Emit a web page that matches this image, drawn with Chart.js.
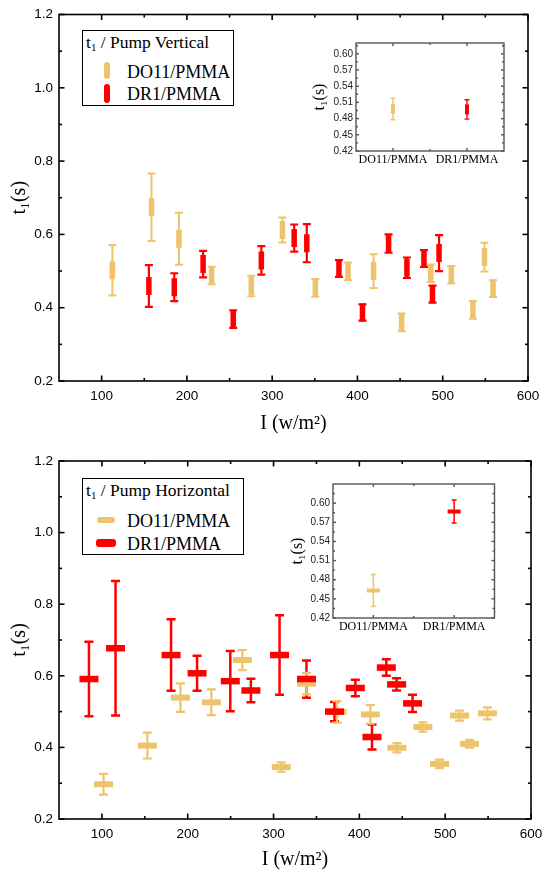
<!DOCTYPE html>
<html><head><meta charset="utf-8">
<script src="https://cdn.jsdelivr.net/npm/chart.js@4.4.1/dist/chart.umd.min.js"></script>
<style>
html,body{margin:0;padding:0;background:#fff;}
body{width:550px;height:881px;position:relative;overflow:hidden;}
canvas{position:absolute;}
.legend{position:absolute;border:1px solid #000;background:#fff;font-family:'Liberation Serif','Times New Roman',serif;color:#000;box-sizing:border-box;}
.legend div{position:absolute;line-height:1;white-space:nowrap;font-family:'Liberation Serif','Times New Roman',serif;}
.legend sub{font-size:0.62em;vertical-align:-0.25em;line-height:0;}
.mk{position:absolute;border-radius:3px;}
</style>
</head><body>
<canvas id="mainV" style="left:0;top:0;width:550px;height:440px"></canvas>
<canvas id="insetV" style="left:290px;top:30px;width:225px;height:145px"></canvas>
<canvas id="mainH" style="left:0;top:440px;width:550px;height:441px"></canvas>
<canvas id="insetH" style="left:270px;top:470px;width:235px;height:170px"></canvas>

<div class="legend" style="left:82px;top:30px;width:152px;height:76px">
  <div style="left:3px;top:3px;font-size:17.5px">t<sub>1</sub> / Pump Vertical</div>
  <span class="mk" style="left:21px;top:31px;width:5.5px;height:17px;background:#EDC46B"></span>
  <div style="left:44px;top:31.5px;font-size:18px">DO11/PMMA</div>
  <span class="mk" style="left:21px;top:53px;width:6px;height:19px;background:#FF0000"></span>
  <div style="left:44px;top:54px;font-size:18px">DR1/PMMA</div>
</div>
<div class="legend" style="left:82px;top:478px;width:162px;height:77px">
  <div style="left:3px;top:3px;font-size:17.5px">t<sub>1</sub> / Pump Horizontal</div>
  <span class="mk" style="left:14px;top:38px;width:18px;height:6px;background:#EDC46B"></span>
  <div style="left:44px;top:33px;font-size:18px">DO11/PMMA</div>
  <span class="mk" style="left:13px;top:60px;width:20px;height:7.5px;background:#FF0000"></span>
  <div style="left:44px;top:55.5px;font-size:18px">DR1/PMMA</div>
</div>

<script>
// ---------------- data ----------------
const YEL = '#EDC46B', RED = '#FF0000';
const seriesNames = ['DO11/PMMA', 'DR1/PMMA'];

// Pump vertical: intensity (W/m^2), t1 (s), error (s)
const doV_I = [112.6, 158.5, 190.7, 229, 275.5, 312, 350.6, 389, 418.9, 451.8, 486, 510, 535.4, 549, 559];
const doV_t = [0.502, 0.674, 0.588, 0.488, 0.459, 0.612, 0.454, 0.499, 0.500, 0.360, 0.494, 0.490, 0.394, 0.538, 0.452];
const doV_e = [0.069, 0.092, 0.071, 0.024, 0.028, 0.034, 0.024, 0.024, 0.046, 0.024, 0.024, 0.024, 0.024, 0.039, 0.023];
const drV_I = [155.4, 185.2, 219, 254.3, 287.3, 325.8, 340.6, 378.3, 405.9, 436.5, 458, 478, 488, 495.7];
const drV_t = [0.459, 0.456, 0.519, 0.369, 0.529, 0.590, 0.576, 0.507, 0.387, 0.575, 0.509, 0.534, 0.437, 0.549];
const drV_e = [0.057, 0.038, 0.036, 0.024, 0.039, 0.037, 0.052, 0.023, 0.022, 0.025, 0.028, 0.023, 0.023, 0.049];

// Pump horizontal
const doH_I = [101.9, 153, 191.5, 227.5, 263.6, 309, 338.4, 374, 412.8, 443.8, 474, 493.4, 516.7, 528.3, 549.2];
const doH_t = [0.297, 0.405, 0.539, 0.526, 0.644, 0.345, 0.578, 0.499, 0.492, 0.399, 0.457, 0.354, 0.489, 0.410, 0.495];
const doH_e = [0.029, 0.036, 0.040, 0.036, 0.028, 0.013, 0.030, 0.030, 0.026, 0.013, 0.013, 0.012, 0.014, 0.011, 0.017];
const drH_I = [84.9, 115.9, 180.6, 210.9, 249.6, 273.6, 307, 338.4, 371, 395.3, 414.7, 431.4, 443.4, 462];
const drH_t = [0.591, 0.677, 0.658, 0.607, 0.585, 0.559, 0.658, 0.591, 0.500, 0.566, 0.429, 0.623, 0.576, 0.523];
const drH_e = [0.104, 0.188, 0.100, 0.049, 0.084, 0.033, 0.111, 0.052, 0.027, 0.023, 0.035, 0.023, 0.017, 0.024];

// Insets (averages)
const insetV_t = [0.498, 0.497];
const insetV_e = [0.020, 0.018];
const insetH_t = [0.463, 0.587];
const insetH_e = [0.025, 0.018];

// ticks
const xTicks = [100, 200, 300, 400, 500, 600];
const xMinor = [150, 250, 350, 450, 550];
const yTicks = [0.2, 0.4, 0.6, 0.8, 1.0, 1.2];
const yMinor = [0.3, 0.5, 0.7, 0.9, 1.1];
const insetYTicks = [0.42, 0.45, 0.48, 0.51, 0.54, 0.57, 0.60];
const insetYMinor = [0.435, 0.465, 0.495, 0.525, 0.555, 0.585, 0.615];

// ---------------- plugins ----------------
const errPlugin = {
  id: 'errbars',
  beforeDatasetsDraw(chart) {
    const ctx = chart.ctx, ys = chart.scales.y;
    chart.data.datasets.forEach((ds, i) => {
      if (!ds.err) return;
      const meta = chart.getDatasetMeta(i);
      ctx.save();
      ctx.strokeStyle = ds.pointBorderColor;
      ctx.lineWidth = ds.errWidth;
      meta.data.forEach((pt, j) => {
        const v = ds.data[j].y, e = ds.err[j];
        const yt = ys.getPixelForValue(v + e), yb = ys.getPixelForValue(v - e);
        ctx.beginPath();
        ctx.moveTo(pt.x, yt); ctx.lineTo(pt.x, yb);
        ctx.moveTo(pt.x - ds.capHalf, yt); ctx.lineTo(pt.x + ds.capHalf, yt);
        ctx.moveTo(pt.x - ds.capHalf, yb); ctx.lineTo(pt.x + ds.capHalf, yb);
        ctx.stroke();
      });
      ctx.restore();
    });
  }
};

const framePlugin = {
  id: 'frame',
  afterDatasetsDraw(chart, args, o) {
    const ctx = chart.ctx, a = chart.chartArea, x = chart.scales.x, y = chart.scales.y;
    ctx.save();
    ctx.strokeStyle = o.color; ctx.lineWidth = o.lw;
    ctx.strokeRect(a.left, a.top, a.right - a.left, a.bottom - a.top);
    const seg = (x1, y1, x2, y2) => { ctx.beginPath(); ctx.moveTo(x1, y1); ctx.lineTo(x2, y2); ctx.stroke(); };
    const doX = (vals, len) => vals.forEach(v => {
      const p = x.getPixelForValue(v);
      seg(p, a.bottom, p, a.bottom - len);
      seg(p, a.top, p, a.top + len);
    });
    const doY = (vals, len) => vals.forEach(v => {
      const p = y.getPixelForValue(v);
      seg(a.left, p, a.left + len, p);
      seg(a.right, p, a.right - len, p);
    });
    doX(o.xMajor, o.major); doX(o.xMinor, o.minor);
    doY(o.yMajor, o.major); doY(o.yMinor, o.minor);
    ctx.restore();
  }
};

const SANS = "'Liberation Sans', Arial, sans-serif";
const SERIF = "'Liberation Serif', 'Times New Roman', serif";

function pts(xs, ys) { return xs.map((v, i) => ({ x: v, y: ys[i] })); }

function ds(label, data, err, color, rot, radius, bw, ew, cap) {
  return {
    label, data, err,
    pointStyle: 'line', pointRotation: rot, pointRadius: radius, pointHoverRadius: radius,
    pointBorderWidth: bw, pointHoverBorderWidth: bw,
    pointBorderColor: color, pointBackgroundColor: color,
    errWidth: ew, capHalf: cap, showLine: false
  };
}

function mainChart(id, w, h, pad, yW, xH, xTitlePad, datasets) {
  const cv = document.getElementById(id);
  cv.width = w; cv.height = h;
  return new Chart(cv, {
    type: 'scatter',
    data: { datasets },
    plugins: [errPlugin, framePlugin],
    options: {
      responsive: false, animation: false, events: [],
      devicePixelRatio: 1,
      layout: { padding: pad },
      plugins: {
        legend: { display: false }, tooltip: { enabled: false },
        frame: { xMajor: xTicks, xMinor, yMajor: yTicks, yMinor, major: 5.5, minor: 3, lw: 1.6, color: '#000' }
      },
      scales: {
        x: {
          type: 'linear', min: 50, max: 600,
          afterBuildTicks: s => { s.ticks = xTicks.map(v => ({ value: v })); },
          afterFit: s => { s.height = xH; },
          grid: { display: false, drawTicks: false }, border: { display: false },
          ticks: { font: { family: SANS, size: 13.5 }, color: '#000', padding: 7, maxRotation: 0, autoSkip: false, callback: v => String(v) },
          title: { display: true, text: 'I (w/m²)', font: { family: SERIF, size: 20 }, color: '#000', padding: { top: 0, bottom: xTitlePad } }
        },
        y: {
          type: 'linear', min: 0.2, max: 1.2,
          afterBuildTicks: s => { s.ticks = yTicks.map(v => ({ value: v })); },
          afterFit: s => { s.width = yW; },
          grid: { display: false, drawTicks: false }, border: { display: false },
          ticks: { font: { family: SANS, size: 13.5 }, color: '#000', padding: 6, autoSkip: false, callback: v => v.toFixed(1) },
          title: { display: true, text: 't₁(s)', font: { family: SERIF, size: 20 }, color: '#000', padding: { top: 8, bottom: 0 } }
        }
      }
    }
  });
}

function insetChart(id, w, h, pad, yW, xH, yMax, datasets, titlePad) {
  const cv = document.getElementById(id);
  cv.width = w; cv.height = h;
  return new Chart(cv, {
    type: 'scatter',
    data: { datasets },
    plugins: [errPlugin, framePlugin],
    options: {
      responsive: false, animation: false, events: [],
      devicePixelRatio: 1,
      layout: { padding: pad },
      plugins: {
        legend: { display: false }, tooltip: { enabled: false },
        frame: { xMajor: [0.5, 1.5], xMinor: [1.0], yMajor: insetYTicks, yMinor: insetYMinor, major: 3, minor: 2, lw: 1.4, color: '#555' }
      },
      scales: {
        x: {
          type: 'linear', min: 0, max: 2,
          afterBuildTicks: s => { s.ticks = [0.5, 1.5].map(v => ({ value: v })); },
          afterFit: s => { s.height = xH; },
          grid: { display: false, drawTicks: false }, border: { display: false },
          ticks: { font: { family: SERIF, size: 12 }, color: '#000', padding: 2, maxRotation: 0, autoSkip: false,
                   callback: v => seriesNames[Math.round(v - 0.5)] }
        },
        y: {
          type: 'linear', min: 0.42, max: yMax,
          afterBuildTicks: s => { s.ticks = insetYTicks.map(v => ({ value: v })); },
          afterFit: s => { s.width = yW; },
          grid: { display: false, drawTicks: false }, border: { display: false },
          ticks: { font: { family: SANS, size: 10 }, color: '#222', padding: 3, autoSkip: false, callback: v => v.toFixed(2) },
          title: { display: true, text: 't₁(s)', font: { family: SERIF, size: 16 }, color: '#000', padding: { top: titlePad, bottom: 0 } }
        }
      }
    }
  });
}

// Pump vertical
mainChart('mainV', 550, 440, { left: 0, top: 14, right: 22, bottom: 0 }, 59, 59, 4, [
  ds('DR1/PMMA', pts(drV_I, drV_t), drV_e, RED, 90, 9, 5.5, 2.2, 4),
  ds('DO11/PMMA', pts(doV_I, doV_t), doV_e, YEL, 90, 9, 5.5, 2, 4)
]);
insetChart('insetV', 225, 145, { left: 0, top: 13, right: 11, bottom: 0 }, 66, 24, 0.62, [
  ds('DR1/PMMA', pts([1.5], [insetV_t[1]]), [insetV_e[1]], RED, 90, 5, 4, 1.4, 2.5),
  ds('DO11/PMMA', pts([0.5], [insetV_t[0]]), [insetV_e[0]], YEL, 90, 5, 4, 1.4, 2.5)
], 20);

// Pump horizontal
mainChart('mainH', 550, 441, { left: 0, top: 21, right: 19, bottom: 0 }, 59, 62, 9, [
  ds('DR1/PMMA', pts(drH_I, drH_t), drH_e, RED, 0, 9.5, 6.5, 2.5, 4.5),
  ds('DO11/PMMA', pts(doH_I, doH_t), doH_e, YEL, 0, 9.5, 6, 2.2, 4.5)
]);
insetChart('insetH', 235, 170, { left: 0, top: 14, right: 10.5, bottom: 0 }, 63, 22, 0.63, [
  ds('DR1/PMMA', pts([1.5], [insetH_t[1]]), [insetH_e[1]], RED, 0, 6.5, 4, 1.5, 2.5),
  ds('DO11/PMMA', pts([0.5], [insetH_t[0]]), [insetH_e[0]], YEL, 0, 6.5, 4, 1.5, 2.5)
], 18);
</script>
</body></html>
